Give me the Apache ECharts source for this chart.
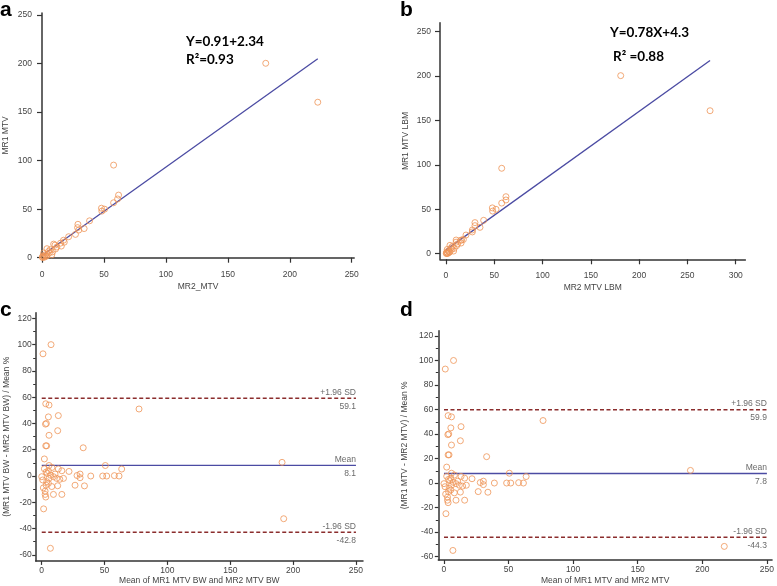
<!DOCTYPE html>
<html><head><meta charset="utf-8">
<script src="https://cdn.jsdelivr.net/npm/echarts@6/dist/echarts.min.js"></script>
<style>html,body{margin:0;padding:0;background:#fff}#c{width:777px;height:586px}</style>
</head><body><div id="c"></div>
<script>
// ---------- DATA ----------
const ticksA = [0, 50, 100, 150, 200, 250];
const ticksBx = [0, 50, 100, 150, 200, 250, 300];
const ticksBy = [0, 50, 100, 150, 200, 250];
const ticksCDx = [0, 50, 100, 150, 200, 250];
const ticksCDy = [-60, -40, -20, 0, 20, 40, 60, 80, 100, 120];
const minorCDy = [-50, -30, -10, 10, 30, 50, 70, 90, 110];

// Panel a: MR2_MTV (x) vs MR1 MTV (y)
const aMR2 = [57.8, 61.8, 61.0, 57.8, 48.0, 50.5, 48.3, 38.4, 29.0, 28.7, 34.0, 29.7, 27.0, 21.5, 17.4, 15.0, 9.4, 10.5, 15.6, 12.0, 6.6, 4.0, 1.3, 2.6, 0.3, 5.3, 1.3, 7.9, 4.0, 2.0, 0.8, 3.2, 6.0, 8.5, 11.0, 18.0, 0.5, 180.6, 222.6];
const aMR1 = [95.4, 64.5, 60.5, 56.6, 51.0, 50.0, 48.0, 38.0, 34.4, 31.0, 30.0, 28.5, 24.0, 21.6, 18.0, 15.0, 14.0, 13.0, 12.0, 11.0, 8.3, 9.3, 4.8, 3.0, 0.6, 6.5, 1.2, 3.0, 2.0, 0.5, 2.0, 1.5, 5.0, 6.0, 9.0, 16.0, 0.2, 200.3, 160.2];
// Panel b: MR2 MTV LBM (x) vs MR1 MTV LBM (y)
const bMR2 = [57.7, 62.1, 62.1, 57.7, 48.0, 51.8, 48.3, 39.0, 30.0, 30.0, 35.2, 27.3, 27.3, 20.7, 16.2, 15.0, 10.5, 10.5, 15.6, 12.0, 6.6, 4.1, 1.3, 2.6, 0.3, 5.3, 1.4, 7.9, 4.0, 2.0, 0.8, 3.2, 6.0, 8.5, 11.0, 18.0, 0.5, 180.9, 273.4];
const bMR1 = [96.2, 64.2, 60.5, 57.0, 51.6, 50.0, 48.0, 37.6, 35.0, 31.6, 29.7, 26.7, 24.5, 21.0, 15.4, 15.0, 15.4, 13.0, 12.0, 11.0, 8.3, 9.4, 4.8, 3.0, 0.6, 6.5, 0.4, 3.0, 2.0, 0.5, 2.0, 1.5, 5.0, 6.0, 9.0, 16.0, 0.2, 200.5, 161.0];
const regA = { slope: 0.91, intercept: 2.34, xStart: 0, xEnd: 222.6 };
const regB = { slope: 0.78, intercept: 4.3, xStart: 0, xEnd: 273.4 };

// Panel c: Bland-Altman BW
const cMean = [7.4, 1.0, 3.2, 5.8, 5.3, 13.2, 3.7, 3.0, 5.8, 12.7, 77.4, 3.2, 3.9, 33.0, 2.1, 5.8, 8.1, 2.1, 50.6, 13.2, 16.0, 21.7, 63.6, 30.5, 28.1, 39.0, 48.5, 51.7, 57.8, 61.5, 30.5, 26.5, 34.0, 12.7, 9.3, 16.0, 3.2, 1.5, 6.9, 4.5, 0.0, 9.3, 11.9, 17.3, 5.8, 0.8, 4.0, 14.4, 7.1, 3.5, 1.3, 2.7, 5.3, 8.0, 2.7, 3.5, 5.3, 10.6, 191.2, 192.5];
const cDiff = [100, 93, 55, 54, 45, 46, 40, 39.5, 31, 34.5, 51, 23, 23, 21.5, 13, 8, 6.5, 5.5, 8, 5.4, 4, 3.5, 5.3, 1.5, 0.4, 0, 0, 0, 0.3, 0, -1.3, -7, -7.5, -7.4, -14, -14, -16, -25, -55, 2, -0.5, -0.5, -1.8, -1.8, -1.8, -3, -4.3, -2.5, 0.6, -7, -9, -11.5, -5.6, -8, -14, 3, 4, 1.5, 10.4, -32.5];
// Panel d: Bland-Altman MTV
const dMean = [7.4, 1.0, 3.2, 5.8, 5.3, 13.2, 3.7, 3.0, 5.8, 12.7, 76.7, 3.2, 3.9, 33.0, 2.1, 5.8, 8.1, 2.1, 50.6, 13.2, 16.0, 21.7, 63.6, 30.5, 28.1, 39.0, 48.5, 51.7, 57.8, 61.5, 30.5, 26.5, 34.0, 12.7, 9.3, 16.0, 3.2, 1.5, 6.9, 4.5, 0.0, 9.3, 11.9, 17.3, 5.8, 0.8, 4.0, 14.4, 7.1, 3.5, 1.3, 2.7, 5.3, 8.0, 2.7, 3.5, 5.3, 10.6, 190.8, 217.0];
const dDiff = [100, 93, 55, 54, 45, 46, 40, 39.5, 31, 34.5, 51, 23, 23, 21.5, 13, 8, 6.5, 5.5, 8, 5.4, 4, 3.5, 5.3, 1.5, 0.4, 0, 0, 0, 0.3, 0, -1.3, -7, -7.5, -7.4, -14, -14, -16, -25, -55, 2, -0.5, -0.5, -1.8, -1.8, -1.8, -3, -4.3, -2.5, 0.6, -7, -9, -11.5, -5.6, -8, -14, 3, 4, 1.5, 10.3, -51.7];

const limitNames = ['+1.96 SD', 'Mean', '-1.96 SD'];
const cLimits = [59.1, 8.1, -42.8];
const dLimits = [59.9, 7.8, -44.3];
const limitSpan = [0, 250];

// ---------- STYLE ----------
const F = 'Liberation Sans, Arial, sans-serif';
const AX = '#333';
const TXT = '#444';
const ORANGE = '#ef9558';
const BLUE = '#4b4ba3';
const RED = '#8b2d2d';

function zip(xs, ys) { return xs.map((x, i) => [x, ys[i]]); }

function makeAxis(gi, pos, min, max, ticks, name, margin, nameGap, tickLen) {
  return {
    type: 'value', gridIndex: gi, position: pos, min: min, max: max,
    name: name, nameLocation: 'middle', nameGap: nameGap,
    nameTextStyle: { fontSize: 8.5, color: TXT, fontFamily: F },
    axisLine: { show: true, onZero: false, lineStyle: { color: AX, width: 1.5 } },
    axisTick: { show: true, inside: false, length: tickLen, customValues: ticks, lineStyle: { color: AX, width: 1.2 } },
    axisLabel: { show: true, customValues: ticks, margin: margin, fontSize: 8.5, color: TXT, fontFamily: F },
    splitLine: { show: false }
  };
}
function minorY(gi, min, max, ticks) {
  return {
    type: 'value', gridIndex: gi, position: 'left', min: min, max: max,
    axisLine: { show: false, onZero: false },
    axisTick: { show: true, inside: false, length: 2.5, customValues: ticks, lineStyle: { color: AX, width: 1 } },
    axisLabel: { show: false }, splitLine: { show: false }
  };
}

function scatter(xi, yi, xs, ys) {
  return {
    type: 'scatter', xAxisIndex: xi, yAxisIndex: yi, data: zip(xs, ys),
    symbol: 'circle', symbolSize: 6,
    itemStyle: { color: 'rgba(255,255,255,0)', borderColor: ORANGE, borderWidth: 1 },
    silent: true, z: 3
  };
}
function regLine(xi, yi, r) {
  const xs = [r.xStart, r.xEnd];
  return {
    type: 'line', xAxisIndex: xi, yAxisIndex: yi,
    data: xs.map(x => [x, r.slope * x + r.intercept]),
    symbol: 'none', lineStyle: { color: BLUE, width: 1.3 }, silent: true, z: 2
  };
}
function limitSeries(xi, yi, limits) {
  const out = [];
  limits.forEach((v, i) => {
    const isMean = limitNames[i] === 'Mean';
    out.push({
      type: 'line', xAxisIndex: xi, yAxisIndex: yi,
      data: limitSpan.map(x => [x, v]), symbol: 'none', silent: true, z: 2,
      lineStyle: isMean ? { color: BLUE, width: 1.3 } : { color: RED, width: 1.5, type: [4, 2.5] }
    });
  });
  const lab = [];
  limits.forEach((v, i) => {
    lab.push({ value: [limitSpan[1], v], label: { position: 'top', distance: 1, formatter: limitNames[i] } });
    lab.push({ value: [limitSpan[1], v], label: { position: 'bottom', distance: 3, formatter: v.toFixed(1) } });
  });
  out.push({
    type: 'scatter', xAxisIndex: xi, yAxisIndex: yi, data: lab, symbolSize: 1,
    itemStyle: { color: 'rgba(0,0,0,0)' }, silent: true,
    label: { show: true, align: 'right', fontSize: 8.5, color: TXT, fontFamily: F }
  });
  return out;
}

const chart = echarts.init(document.getElementById('c'), null, { renderer: 'canvas' });
const option = {
  animation: false,
  backgroundColor: '#fff',
  grid: [
    { left: 41.5, top: 13.1, width: 312.7, height: 244.6 },
    { left: 440, top: 22.8, width: 305.4, height: 236.5 },
    { left: 35.7, top: 312.7, width: 327.3, height: 248.2 },
    { left: 438.3, top: 330.7, width: 335.9, height: 230.3 }
  ],
  xAxis: [
    makeAxis(0, 'bottom', 0, 252, ticksA, 'MR2_MTV', 12, 24, 5),
    makeAxis(1, 'bottom', -6.2, 310, ticksBx, 'MR2 MTV LBM', 12, 24, 5),
    makeAxis(2, 'bottom', -4.8, 255.6, ticksCDx, 'Mean of MR1 MTV BW and MR2 MTV BW', 5, 15, 4),
    makeAxis(3, 'bottom', -4.4, 254, ticksCDx, 'Mean of MR1 MTV and MR2 MTV', 5.5, 16, 4)
  ],
  yAxis: [
    makeAxis(0, 'left', 0, 252, ticksA, 'MR1 MTV', 10, 32, 5),
    makeAxis(1, 'left', -6.3, 260, ticksBy, 'MR1 MTV LBM', 9, 30, 5),
    makeAxis(2, 'left', -64.6, 124.3, ticksCDy, '(MR1 MTV BW - MR2 MTV BW) / Mean %', 4, 25, 3.5),
    makeAxis(3, 'left', -62.8, 124.3, ticksCDy, '(MR1 MTV - MR2 MTV) / Mean %', 5, 29, 3.5),
    minorY(2, -64.6, 124.3, minorCDy),
    minorY(3, -62.8, 124.3, minorCDy)
  ],
  series: [
    scatter(0, 0, aMR2, aMR1),
    regLine(0, 0, regA),
    scatter(1, 1, bMR2, bMR1),
    regLine(1, 1, regB),
    scatter(2, 2, cMean, cDiff),
    ...limitSeries(2, 2, cLimits),
    scatter(3, 3, dMean, dDiff),
    ...limitSeries(3, 3, dLimits)
  ],
  graphic: [
    { type: 'text', left: 0, top: 0, style: { text: 'a', font: 'bold 21px ' + F, fill: '#000' } },
    { type: 'text', left: 400, top: 0, style: { text: 'b', font: 'bold 21px ' + F, fill: '#000' } },
    { type: 'text', left: 0, top: 300, style: { text: 'c', font: 'bold 21px ' + F, fill: '#000' } },
    { type: 'text', left: 400, top: 300, style: { text: 'd', font: 'bold 21px ' + F, fill: '#000' } },
    { type: 'text', left: 186, top: 35, style: { text: 'Y=0.91+2.34', font: 'bold 13.5px Lato, sans-serif', fill: '#000' } },
    { type: 'text', left: 186, top: 53, style: { text: 'R²=0.93', font: 'bold 13.5px Lato, sans-serif', fill: '#000' } },
    { type: 'text', left: 610, top: 26, style: { text: 'Y=0.78X+4.3', font: 'bold 13.5px Lato, sans-serif', fill: '#000' } },
    { type: 'text', left: 613, top: 50, style: { text: 'R² =0.88', font: 'bold 13.5px Lato, sans-serif', fill: '#000' } }
  ]
};
chart.setOption(option);
</script>
</body></html>
